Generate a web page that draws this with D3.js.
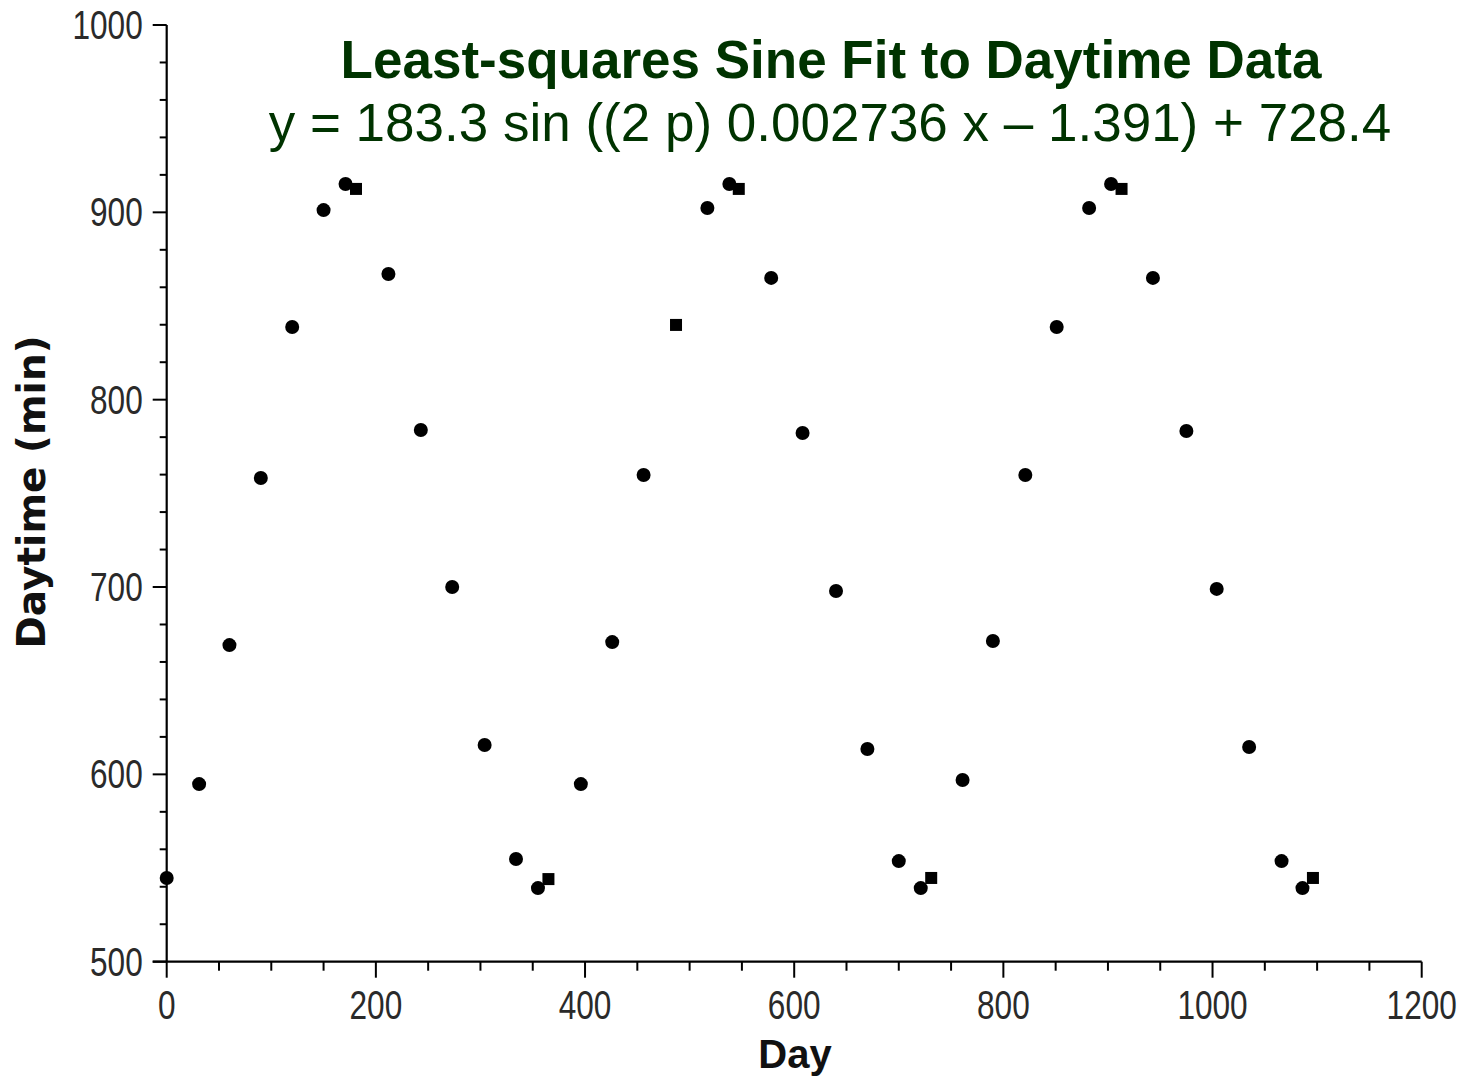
<!DOCTYPE html>
<html><head><meta charset="utf-8">
<script src="https://cdn.jsdelivr.net/npm/d3@7"></script>
<style>body{margin:0;background:#fff}</style>
</head><body>
<svg id="c" width="1462" height="1078"></svg>
<script>
// Data
const circleDays = [0, 31, 60, 90, 120, 150, 171, 212, 243, 273, 304, 334, 355, 396, 426, 456, 517, 538, 578, 608, 640, 670, 700, 721, 761, 790, 821, 851, 882, 903, 943, 975, 1004, 1035, 1066, 1086];
const circleMins = [544.7, 594.8, 669.0, 758.2, 838.8, 901.2, 915.1, 867.1, 783.8, 700.0, 615.7, 554.8, 539.3, 594.8, 670.6, 759.8, 902.3, 915.1, 865.0, 782.2, 697.9, 613.5, 553.7, 539.3, 597.0, 671.2, 759.8, 838.8, 902.3, 915.1, 865.0, 783.3, 699.0, 614.6, 553.7, 539.3];
const squareDays = [181, 365, 487, 547, 731, 913, 1096];
const squareMins = [912.5, 544.1, 839.9, 912.5, 544.7, 912.5, 544.7];
const xTicks = [0, 200, 400, 600, 800, 1000, 1200];
const yTicks = [500, 600, 700, 800, 900, 1000];
const titleText = "Least-squares Sine Fit to Daytime Data";
const subtitleText = "y = 183.3 sin ((2 p) 0.002736 x \u2013 1.391) + 728.4";
const xLabel = "Day";
const yLabel = "Daytime (min)";

const svg = d3.select("#c");
const x = d3.scaleLinear().domain([0, 1200]).range([166.7, 1421.7]);
const y = d3.scaleLinear().domain([500, 1000]).range([961.7, 25]);

const tickFont = "'Liberation Sans',Arial,sans-serif";
const narrow = 0.77;

// X axis
const gx = svg.append("g").attr("transform", `translate(0,${y(500)})`);
gx.append("line").attr("x1", x(0) - 14).attr("x2", x(1200)).attr("y1", 0).attr("y2", 0)
  .attr("stroke", "#000").attr("stroke-width", 2.2);
gx.selectAll(".mn").data(d3.range(0, 1201, 50)).join("line")
  .attr("x1", d => x(d)).attr("x2", d => x(d)).attr("y1", 0)
  .attr("y2", d => d % 200 === 0 ? 16 : 9).attr("stroke", "#000").attr("stroke-width", 2);
gx.selectAll("text").data(xTicks).join("text")
  .attr("transform", d => `translate(${x(d)},57) scale(${narrow},1)`).attr("text-anchor", "middle")
  .attr("font-family", tickFont).attr("font-size", 41).attr("fill", "#2a2a2a")
  .text(d => d);

// Y axis
const gy = svg.append("g").attr("transform", `translate(${x(0)},0)`);
gy.append("line").attr("x1", 0).attr("x2", 0).attr("y1", y(1000)).attr("y2", y(500))
  .attr("stroke", "#000").attr("stroke-width", 2.2);
gy.selectAll(".mn").data(d3.range(500, 1001, 20)).join("line")
  .attr("y1", d => y(d)).attr("y2", d => y(d)).attr("x1", 0)
  .attr("x2", d => d % 100 === 0 ? -14 : -7).attr("stroke", "#000").attr("stroke-width", 2);
gy.selectAll("text").data(yTicks).join("text")
  .attr("transform", d => `translate(-24,${y(d) + 14}) scale(${narrow},1)`).attr("text-anchor", "end")
  .attr("font-family", tickFont).attr("font-size", 41).attr("fill", "#2a2a2a")
  .text(d => d);

// Axis titles
svg.append("text").attr("x", 795).attr("y", 1068).attr("text-anchor", "middle")
  .attr("font-family", "'Liberation Sans',Arial,sans-serif").attr("font-weight", "bold")
  .attr("font-size", 40).attr("fill", "#111").text(xLabel);
svg.append("text").attr("transform", "translate(45,492) rotate(-90)").attr("text-anchor", "middle")
  .attr("font-family", "'DejaVu Sans',Verdana,sans-serif").attr("font-weight", "bold")
  .attr("font-size", 39).attr("fill", "#111").text(yLabel);

// Points
const circles = circleDays.map((d, i) => ({d, m: circleMins[i]}));
const squares = squareDays.map((d, i) => ({d, m: squareMins[i]}));
svg.append("g").selectAll("circle").data(circles).join("circle")
  .attr("cx", p => x(p.d)).attr("cy", p => y(p.m)).attr("r", 7).attr("fill", "#000");
svg.append("g").selectAll("rect").data(squares).join("rect")
  .attr("x", p => x(p.d) - 6).attr("y", p => y(p.m) - 6)
  .attr("width", 12).attr("height", 12).attr("fill", "#000");

// Title
svg.append("text").attr("x", 831).attr("y", 78).attr("text-anchor", "middle")
  .attr("font-family", "'Liberation Sans',Arial,sans-serif").attr("font-weight", "bold")
  .attr("font-size", 53).attr("fill", "#003300").text(titleText);
svg.append("text").attr("x", 830).attr("y", 141).attr("text-anchor", "middle")
  .attr("font-family", "'Liberation Sans',Arial,sans-serif")
  .attr("font-size", 53).attr("fill", "#003300").text(subtitleText);
</script>
</body></html>
